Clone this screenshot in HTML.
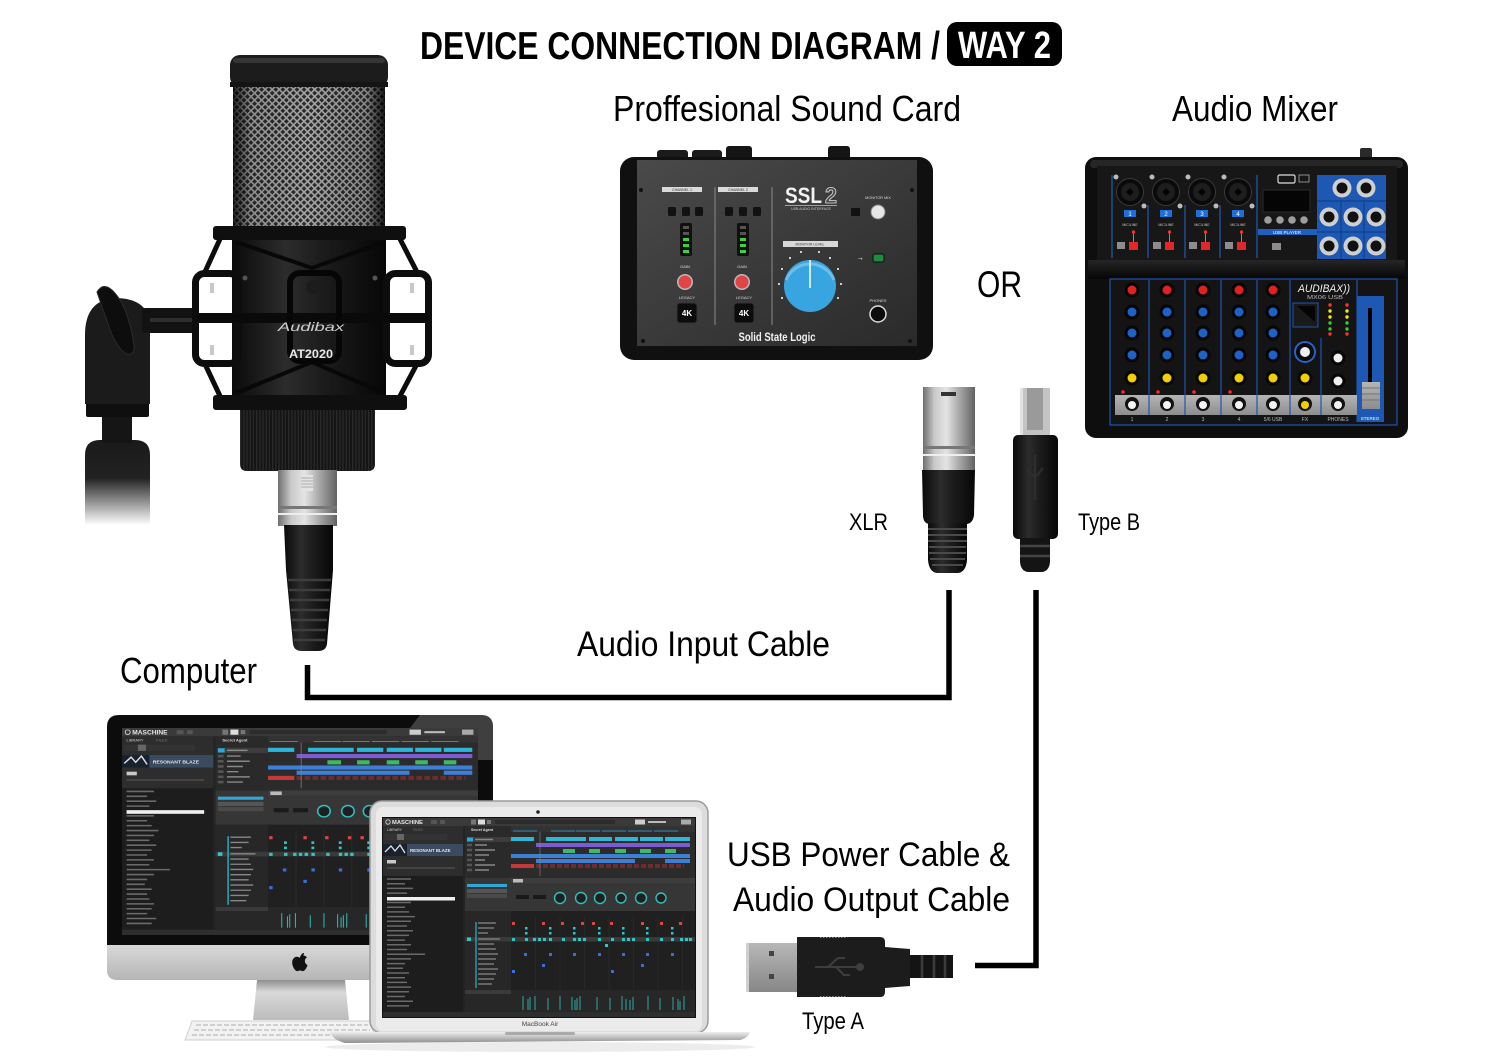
<!DOCTYPE html>
<html><head><meta charset="utf-8"><title>Device Connection Diagram</title>
<style>
html,body{margin:0;padding:0;background:#fff;width:1500px;height:1061px;overflow:hidden}
svg{display:block}
text{font-family:"Liberation Sans",Arial,sans-serif}
</style></head><body>
<svg width="1500" height="1061" viewBox="0 0 1500 1061" xmlns="http://www.w3.org/2000/svg">
<defs>
<pattern id="mesh" width="5" height="5" patternUnits="userSpaceOnUse" patternTransform="rotate(45)">
<rect width="5" height="5" fill="#2a2a2a"/>
<path d="M0 0.8H5M0.8 0V5" stroke="#a8a8a8" stroke-width="1.6"/>
</pattern>
<linearGradient id="gshade" x1="0" x2="1" y1="0" y2="0">
<stop offset="0" stop-color="#000" stop-opacity=".8"/>
<stop offset=".12" stop-color="#000" stop-opacity=".15"/>
<stop offset=".5" stop-color="#000" stop-opacity="0"/>
<stop offset=".88" stop-color="#000" stop-opacity=".2"/>
<stop offset="1" stop-color="#000" stop-opacity=".85"/>
</linearGradient>
<linearGradient id="blk" x1="0" x2="1">
<stop offset="0" stop-color="#0a0a0a"/>
<stop offset=".35" stop-color="#2c2c2c"/>
<stop offset=".6" stop-color="#1b1b1b"/>
<stop offset="1" stop-color="#070707"/>
</linearGradient>
<linearGradient id="silv" x1="0" x2="1">
<stop offset="0" stop-color="#6e6e6e"/>
<stop offset=".22" stop-color="#c9c9c9"/>
<stop offset=".45" stop-color="#e4e4e4"/>
<stop offset=".72" stop-color="#a3a3a3"/>
<stop offset="1" stop-color="#626262"/>
</linearGradient>
<pattern id="knurl" width="3.2" height="10" patternUnits="userSpaceOnUse">
<rect width="3.2" height="10" fill="#141414"/>
<rect width="1.2" height="10" fill="#2b2b2b"/>
</pattern>
<linearGradient id="fade" x1="0" x2="0" y1="0" y2="1">
<stop offset="0" stop-color="#1a1a1a"/>
<stop offset=".45" stop-color="#222"/>
<stop offset="1" stop-color="#fff"/>
</linearGradient>
<linearGradient id="ssl" x1="0" x2="1" y1="0" y2="1">
<stop offset="0" stop-color="#4a4a4a"/>
<stop offset="1" stop-color="#2a2a2a"/>
</linearGradient>
<linearGradient id="chin" x1="0" x2="0" y1="0" y2="1">
<stop offset="0" stop-color="#d8d8d8"/>
<stop offset="1" stop-color="#b6b6b6"/>
</linearGradient>
<linearGradient id="stand" x1="0" x2="0" y1="0" y2="1">
<stop offset="0" stop-color="#8e8e8e"/>
<stop offset=".3" stop-color="#d9d9d9"/>
<stop offset="1" stop-color="#bdbdbd"/>
</linearGradient>
<linearGradient id="base" x1="0" x2="0" y1="0" y2="1">
<stop offset="0" stop-color="#eee"/>
<stop offset="1" stop-color="#8e8e8e"/>
</linearGradient>
<linearGradient id="usbm" x1="0" x2="0" y1="0" y2="1">
<stop offset="0" stop-color="#b8b8b8"/>
<stop offset="1" stop-color="#878787"/>
</linearGradient>
<linearGradient id="band" x1="0" x2="0" y1="0" y2="1">
<stop offset="0" stop-color="#262626"/>
<stop offset="1" stop-color="#050505"/>
</linearGradient>
<linearGradient id="gray" x1="0" x2="0" y1="0" y2="1">
<stop offset="0" stop-color="#b5b5b5"/>
<stop offset="1" stop-color="#8d8d8d"/>
</linearGradient>

<g id="ui">
<rect width="312" height="199" fill="#242424"/>
<rect width="312" height="8" fill="#3a3a3a"/>
<circle cx="5" cy="4" r="2.2" fill="none" stroke="#ddd" stroke-width=".8"/>
<text x="9" y="6.2" font-size="5.8" font-weight="bold" fill="#e6e6e6">MASCHINE</text>
<rect x="48" y="2" width="6" height="4" fill="#555"/>
<rect x="57" y="2" width="5" height="4" fill="#555"/>
<rect x="88" y="1.5" width="5" height="5" fill="#777"/>
<rect x="95" y="1.5" width="7" height="5" fill="#ddd"/>
<rect x="104" y="2" width="4" height="4" fill="#777"/>
<rect x="112" y="2" width="120" height="4" fill="#2c2c2c"/>
<rect x="252" y="1.5" width="10" height="5" fill="#ccc"/>
<rect x="265" y="3" width="18" height="2" fill="#bbb"/>
<rect x="298" y="1.5" width="10" height="5" fill="#aaa"/>
<rect y="8" width="80" height="50" fill="#2d2d2d"/>
<text x="4" y="13" font-size="3.5" fill="#ccc">LIBRARY</text>
<text x="30" y="13" font-size="3.5" fill="#777">FILES</text>
<rect x="2" y="16" width="62" height="6" fill="#333"/>
<rect x="14" y="16" width="7" height="6" fill="#666"/>
<rect y="26" width="80" height="12" fill="#3a4a5f"/>
<rect y="26" width="24" height="12" fill="#18222c"/>
<path d="M2 34 L8 28 L12 33 L17 27 L22 35" stroke="#dde" stroke-width="1.3" fill="none"/>
<text x="27" y="34" font-size="4.4" font-weight="bold" fill="#e8e8e8">RESONANT BLAZE</text>
<rect x="4" y="42" width="9" height="3.5" fill="#c8c8c8"/>
<rect x="4" y="49" width="68" height="2" fill="#444"/>
<rect y="58" width="80" height="136" fill="#1d1d1d"/>
<path d="M4 61h24M4 65.7h18M4 70.4h26M4 75.1h20M4 84.5h24M4 89.2h18M4 93.9h22M4 98.6h28M4 103.3h24M4 108h20M4 112.7h26M4 117.4h22M4 122.1h18M4 126.8h24M4 131.5h20M4 136.2h38M4 140.9h24M4 145.6h18M4 150.3h16M4 155h22M4 159.7h18M4 164.4h20M4 169.1h24M4 173.8h22M4 178.5h18M4 183.2h26M4 187.9h22" stroke="#6a6a6a" stroke-width="1.5"/>
<rect x="4" y="79" width="68" height="3.5" fill="#efefef"/>
<rect x="82" y="8" width="46" height="52" fill="#2a2a2a"/>
<text x="88" y="13" font-size="3.6" fill="#ddd" font-weight="bold">Secret Agent</text>
<rect x="84" y="19" width="44" height="5" fill="#3d3d3d"/>
<rect x="84" y="19.5" width="6" height="4" fill="#2fa8d8"/>
<path d="M84 27h5M84 32h5M84 37h5M84 42h5M84 47h5M84 52h5" stroke="#555" stroke-width="2.5"/>
<path d="M92 21.5h18M92 27h12M92 32h20M92 37h14M92 42h10M92 47h20M92 52h14" stroke="#888" stroke-width="1.4"/>
<rect x="128" y="8" width="184" height="52" fill="#2b2b2b"/>
<rect x="128" y="8" width="184" height="6" fill="#333"/>
<path d="M130 13h24M168 13h24M193 13h24M219 13h24M245 13h24M271 13h24" stroke="#2fa8d8" stroke-width=".8"/>
<rect x="128" y="19" width="23" height="4" fill="#2fb5d6"/>
<rect x="163" y="19" width="40" height="4" fill="#2fb5d6"/>
<rect x="206" y="19" width="23" height="4" fill="#2fb5d6"/>
<rect x="232" y="19" width="23" height="4" fill="#2fb5d6"/>
<rect x="257" y="19" width="23" height="4" fill="#2fb5d6"/>
<rect x="282" y="19" width="25" height="4" fill="#2fb5d6"/>
<rect x="153" y="25" width="154" height="4" fill="#7b5bd1"/>
<rect x="180" y="31" width="12" height="4" fill="#3dbb63"/>
<rect x="206" y="31" width="11" height="4" fill="#3dbb63"/>
<rect x="232" y="31" width="11" height="4" fill="#3dbb63"/>
<rect x="257" y="31" width="11" height="4" fill="#3dbb63"/>
<rect x="282" y="31" width="11" height="4" fill="#3dbb63"/>
<rect x="128" y="36" width="179" height="4" fill="#3b7fd6"/>
<rect x="153" y="41" width="99" height="4" fill="#3b7fd6"/>
<rect x="282" y="41" width="25" height="4" fill="#3b7fd6"/>
<rect x="128" y="46" width="23" height="4" fill="#c43a3a"/>
<path d="M153 48h148" stroke="#6e2c2c" stroke-width="4" stroke-dasharray="5 2"/>
<line x1="157" y1="14" x2="157" y2="58" stroke="#888" stroke-width=".6"/>
<rect x="82" y="60" width="230" height="33" fill="#363636"/>
<rect x="84" y="66" width="40" height="3" fill="#2fa8d8"/>
<rect x="84" y="71" width="40" height="4" fill="#555"/>
<rect x="84" y="76" width="40" height="4" fill="#4a4a4a"/>
<rect x="128" y="60" width="184" height="5" fill="#3d3d3d"/>
<rect x="130" y="61" width="10" height="3.5" fill="#bbb"/>
<rect x="133" y="77" width="13" height="4" fill="#1a1a1a"/>
<rect x="150" y="77" width="13" height="4" fill="#1a1a1a"/>
<g fill="#1f1f1f" stroke="#2ec0c0" stroke-width="1.4">
<circle cx="177" cy="80" r="5.5"/><circle cx="198" cy="80" r="5.5"/><circle cx="217" cy="80" r="5.5"/><circle cx="238" cy="80" r="5"/><circle cx="258" cy="80" r="5.5"/><circle cx="278" cy="80" r="5"/>
</g>
<rect x="82" y="93" width="46" height="79" fill="#272727"/>
<rect x="128" y="93" width="184" height="79" fill="#202020"/>
<path d="M152.5 98V172M177 98V172M201.5 98V172M226 98V172M250.5 98V172M275 98V172M299.5 98V172" stroke="#303030" stroke-width=".6"/>
<rect x="82" y="119" width="230" height="4.5" fill="#3a3a3a"/>
<rect x="84" y="119.5" width="4" height="3.5" fill="#2fc6c6"/>
<path d="M93 104v66" stroke="#2fb5c6" stroke-width="1.2"/>
<path d="M95 105h18M95 110h16M95 115h10M95 121h22M95 126h16M95 131h18M95 136h20M95 141h18M95 146h16M95 151h20M95 156h18M95 161h16M95 166h14" stroke="#888" stroke-width="1.3"/>
<g fill="#d44">
<rect x="129" y="104" width="3" height="3"/><rect x="159" y="104" width="3" height="3"/><rect x="178" y="104" width="3" height="3"/><rect x="198" y="104" width="3" height="3"/><rect x="209" y="104" width="3" height="3"/><rect x="227" y="104" width="3" height="3"/><rect x="258" y="104" width="3" height="3"/><rect x="277" y="104" width="3" height="3"/><rect x="296" y="104" width="3" height="3"/>
</g>
<g fill="#2fc6c6">
<rect x="142" y="109" width="2.5" height="2.5"/><rect x="166" y="109" width="2.5" height="2.5"/><rect x="190" y="109" width="2.5" height="2.5"/><rect x="215" y="109" width="2.5" height="2.5"/><rect x="239" y="109" width="2.5" height="2.5"/><rect x="263" y="109" width="2.5" height="2.5"/><rect x="288" y="109" width="2.5" height="2.5"/>
<rect x="142" y="114" width="2.5" height="2.5"/><rect x="166" y="114" width="2.5" height="2.5"/><rect x="190" y="114" width="2.5" height="2.5"/><rect x="215" y="114" width="2.5" height="2.5"/><rect x="239" y="114" width="2.5" height="2.5"/><rect x="263" y="114" width="2.5" height="2.5"/><rect x="288" y="114" width="2.5" height="2.5"/>
<rect x="129" y="120" width="3" height="3"/><rect x="142" y="120" width="3" height="3"/><rect x="150" y="120" width="3" height="3"/><rect x="155" y="120" width="3" height="3"/><rect x="160" y="120" width="3" height="3"/><rect x="166" y="120" width="3" height="3"/><rect x="179" y="120" width="3" height="3"/><rect x="190" y="120" width="3" height="3"/><rect x="195" y="120" width="3" height="3"/><rect x="200" y="120" width="3" height="3"/><rect x="215" y="120" width="3" height="3"/><rect x="228" y="120" width="3" height="3"/><rect x="239" y="120" width="3" height="3"/><rect x="244" y="120" width="3" height="3"/><rect x="249" y="120" width="3" height="3"/><rect x="263" y="120" width="3" height="3"/><rect x="277" y="120" width="3" height="3"/><rect x="288" y="120" width="3" height="3"/><rect x="297" y="120" width="3" height="3"/><rect x="302" y="120" width="3" height="3"/><rect x="306" y="120" width="3" height="3"/>
<rect x="222" y="126" width="3" height="3"/>
</g>
<g fill="#3a6ed8">
<rect x="141" y="135" width="3" height="3"/><rect x="166" y="135" width="3" height="3"/><rect x="190" y="135" width="3" height="3"/><rect x="215" y="135" width="3" height="3"/><rect x="239" y="135" width="3" height="3"/><rect x="263" y="135" width="3" height="3"/><rect x="288" y="135" width="3" height="3"/>
<rect x="159" y="146" width="3" height="3"/><rect x="258" y="146" width="3" height="3"/><rect x="129" y="152" width="3" height="3"/><rect x="228" y="152" width="3" height="3"/>
</g>
<rect x="82" y="172" width="230" height="22" fill="#272727"/>
<rect x="82" y="172" width="46" height="4" fill="#3a3a3a"/>
<path d="M140 178V192M145 181V192M147 179V192M152 178V192M165 180V192M177 178V192M189 179V192M192 182V192M194 180V192M197 178V192M214 179V192M227 180V192M239 178V192M243 181V192M247 182V192M250 179V192M265 178V192M277 180V192M290 179V192M295 181V192M297 183V192M301 178V192" stroke="#2fb8b8" stroke-width=".9"/>
<rect y="194" width="312" height="5" fill="#2e2e2e"/>
</g>
</defs>

<rect width="1500" height="1061" fill="#fff"/>

<!-- ===== TITLE ===== -->
<text x="420" y="59" font-size="39" font-weight="bold" fill="#000" textLength="520" lengthAdjust="spacingAndGlyphs">DEVICE CONNECTION DIAGRAM /</text>
<rect x="947" y="22" width="115" height="44" rx="10" fill="#000"/>
<text x="958" y="58" font-size="38" font-weight="bold" fill="#fff" textLength="93" lengthAdjust="spacingAndGlyphs">WAY 2</text>

<text x="613" y="121" font-size="36" fill="#000" textLength="348" lengthAdjust="spacingAndGlyphs">Proffesional Sound Card</text>
<text x="1172" y="121" font-size="36" fill="#000" textLength="166" lengthAdjust="spacingAndGlyphs">Audio Mixer</text>
<text x="977" y="297" font-size="37" fill="#000" textLength="45" lengthAdjust="spacingAndGlyphs">OR</text>

<!-- ===== MIC STAND CLIP ===== -->
<path d="M85 525 V455 Q85 440 100 440 H135 Q150 440 150 455 V525 Z" fill="url(#fade)"/>
<rect x="102" y="415" width="30" height="28" fill="#151515"/>
<rect x="86" y="402" width="63" height="15" rx="2" fill="#0f0f0f"/>
<path d="M85 404 V335 Q85 300 115 298 Q145 298 150 320 V404 Z" fill="#1b1b1b"/>
<path d="M97 292 Q103 282 112 290 Q128 305 134 345 Q135 356 127 354 Q118 350 110 330 Z" fill="#0d0d0d" stroke="#2c2c2c" stroke-width="1"/>
<rect x="142" y="308" width="56" height="25" rx="3" fill="#121212"/>
<rect x="150" y="318" width="45" height="4" fill="#2e2e2e"/>

<!-- ===== MICROPHONE ===== -->
<rect x="230" y="55" width="158" height="32" rx="10" fill="#1c1c1c"/>
<rect x="233" y="58" width="152" height="5" rx="3" fill="#363636"/>
<rect x="233" y="85" width="152" height="143" fill="url(#mesh)"/>
<rect x="233" y="85" width="152" height="143" fill="url(#gshade)"/>
<rect x="230" y="82" width="158" height="5" fill="#141414"/>
<rect x="232" y="238" width="154" height="160" fill="url(#blk)"/>
<rect x="213" y="226" width="193" height="14" rx="3" fill="#0f0f0f"/>
<path d="M220 239 L204 274 M400 239 L418 274 M220 396 L204 362 M400 396 L418 362" stroke="#0c0c0c" stroke-width="5"/>
<path d="M236 242 L312 268 L384 242 M236 393 L312 362 L384 393" stroke="#080808" stroke-width="4" fill="none"/>
<rect x="195.5" y="273.5" width="43" height="90" rx="9" fill="none" stroke="#0d0d0d" stroke-width="7"/>
<rect x="386.5" y="273.5" width="42" height="90" rx="9" fill="none" stroke="#0d0d0d" stroke-width="7"/>
<rect x="197" y="313" width="231" height="10" fill="#0a0a0a"/>
<rect x="290" y="273" width="49" height="88" rx="10" fill="none" stroke="#060606" stroke-width="6"/>
<circle cx="313" cy="287" r="7" fill="#1c1c1c"/>
<circle cx="245" cy="278" r="2.5" fill="#555"/>
<circle cx="375" cy="278" r="2.5" fill="#555"/>
<rect x="210" y="283" width="4" height="10" fill="#c8c8c8"/>
<rect x="210" y="345" width="4" height="10" fill="#c8c8c8"/>
<rect x="410" y="283" width="4" height="10" fill="#c8c8c8"/>
<rect x="410" y="345" width="4" height="10" fill="#c8c8c8"/>
<text x="278" y="331" font-size="12" font-style="italic" fill="#cfcfcf" textLength="66" lengthAdjust="spacingAndGlyphs">Audibax</text>
<text x="289" y="358" font-size="12" font-weight="bold" fill="#e8e8e8" textLength="44" lengthAdjust="spacingAndGlyphs">AT2020</text>
<rect x="213" y="395" width="194" height="15" rx="3" fill="#0f0f0f"/>
<path d="M240 410 H375 V464 Q375 471 368 471 H247 Q240 471 240 464 Z" fill="url(#knurl)"/>
<rect x="278" y="470" width="59" height="56" fill="url(#silv)"/>
<rect x="301" y="475" width="12" height="16" fill="#e4e4e4"/>
<path d="M301 478h12M301 481h12M301 484h12M301 487h12" stroke="#999" stroke-width=".8"/>
<rect x="278" y="506" width="59" height="3" fill="#777"/>
<rect x="278" y="513" width="59" height="2" fill="#eee"/>
<path d="M284 525 H333 V570 L327 644 Q326 651 318 651 H302 Q294 651 293 644 L286 570 Z" fill="url(#blk)"/>
<path d="M288 580H331M289 590H330M290 600H329M291 610H328M292 620H327M293 630H326M294 640H325" stroke="#3d3d3d" stroke-width="2.5"/>

<!-- ===== SOUND CARD (SSL 2) ===== -->
<rect x="657" y="150" width="31" height="11" rx="3" fill="#1b1b1b"/>
<rect x="692" y="150" width="30" height="11" rx="3" fill="#1b1b1b"/>
<rect x="726" y="146" width="26" height="15" rx="3" fill="#151515"/>
<rect x="828" y="146" width="22" height="15" rx="3" fill="#151515"/>
<rect x="620" y="157" width="313" height="203" rx="14" fill="#101010"/>
<rect x="637" y="160" width="280" height="186" fill="url(#ssl)"/>
<circle cx="641" cy="190" r="2" fill="#111"/><circle cx="912" cy="190" r="2" fill="#111"/>
<circle cx="643" cy="341" r="2" fill="#111"/><circle cx="910" cy="341" r="2" fill="#111"/>
<rect x="662" y="187" width="40" height="5" fill="#dadada"/>
<rect x="718" y="187" width="40" height="5" fill="#dadada"/>
<text x="682" y="191" font-size="3.6" fill="#333" text-anchor="middle">CHANNEL 1</text>
<text x="738" y="191" font-size="3.6" fill="#333" text-anchor="middle">CHANNEL 2</text>
<path d="M715 187V325M772 187V325" stroke="#8a8a8a" stroke-width="1"/>
<g fill="#121212">
<rect x="668" y="207" width="8" height="9" rx="1.5"/><rect x="682" y="207" width="8" height="9" rx="1.5"/><rect x="695" y="207" width="8" height="9" rx="1.5"/>
<rect x="725" y="207" width="8" height="9" rx="1.5"/><rect x="739" y="207" width="8" height="9" rx="1.5"/><rect x="753" y="207" width="8" height="9" rx="1.5"/>
</g>
<rect x="680" y="223" width="12" height="33" rx="2" fill="#101010"/>
<rect x="737" y="223" width="12" height="33" rx="2" fill="#101010"/>
<g fill="#3bd33b">
<rect x="683" y="238" width="6" height="3"/><rect x="683" y="244" width="6" height="3"/><rect x="683" y="250" width="6" height="3"/>
<rect x="740" y="238" width="6" height="3"/><rect x="740" y="244" width="6" height="3"/><rect x="740" y="250" width="6" height="3"/>
</g>
<g fill="#555"><rect x="683" y="226" width="6" height="3"/><rect x="683" y="232" width="6" height="3"/><rect x="740" y="226" width="6" height="3"/><rect x="740" y="232" width="6" height="3"/></g>
<text x="685" y="268" font-size="4" fill="#ddd" text-anchor="middle">GAIN</text>
<text x="742" y="268" font-size="4" fill="#ddd" text-anchor="middle">GAIN</text>
<circle cx="685" cy="282" r="8" fill="#bbb"/><circle cx="685" cy="282" r="6.5" fill="#e04444"/>
<circle cx="742" cy="282" r="8" fill="#bbb"/><circle cx="742" cy="282" r="6.5" fill="#e04444"/>
<text x="687" y="299" font-size="4" fill="#ddd" text-anchor="middle">LEGACY</text>
<text x="744" y="299" font-size="4" fill="#ddd" text-anchor="middle">LEGACY</text>
<rect x="677" y="303" width="20" height="20" rx="3" fill="#0c0c0c" stroke="#333"/>
<rect x="734" y="303" width="20" height="20" rx="3" fill="#0c0c0c" stroke="#333"/>
<text x="687" y="316" font-size="8" font-weight="bold" fill="#fff" text-anchor="middle">4K</text>
<text x="744" y="316" font-size="8" font-weight="bold" fill="#fff" text-anchor="middle">4K</text>
<text x="785" y="203" font-size="22" font-weight="bold" fill="#f2f2f2" textLength="37" lengthAdjust="spacingAndGlyphs">SSL</text>
<text x="825" y="203" font-size="22" font-weight="bold" fill="#4a4a4a" stroke="#ddd" stroke-width=".8" textLength="12" lengthAdjust="spacingAndGlyphs">2</text>
<rect x="785" y="205" width="52" height=".8" fill="#bbb"/>
<text x="811" y="210" font-size="3.5" fill="#ccc" text-anchor="middle">USB AUDIO INTERFACE</text>
<text x="878" y="199" font-size="3.8" fill="#ddd" text-anchor="middle">MONITOR MIX</text>
<rect x="851" y="208" width="9" height="8" fill="#111"/>
<circle cx="878" cy="212" r="7" fill="#e6e6e6" stroke="#888"/>
<rect x="783" y="241" width="55" height="6" fill="#d8d8d8"/>
<text x="810" y="245.5" font-size="3.6" fill="#333" text-anchor="middle">MONITOR LEVEL</text>
<g fill="#fff"><circle cx="779" cy="284" r="1"/><circle cx="782" cy="269" r="1"/><circle cx="790" cy="258" r="1"/><circle cx="801" cy="252" r="1"/><circle cx="819" cy="252" r="1"/><circle cx="830" cy="258" r="1"/><circle cx="838" cy="269" r="1"/><circle cx="841" cy="284" r="1"/><circle cx="838" cy="298" r="1"/><circle cx="782" cy="298" r="1"/></g>
<circle cx="810" cy="286" r="26" fill="#39a5e0"/>
<path d="M786 280 A26 26 0 0 1 834 280" stroke="#8fd0f2" stroke-width="3" fill="none" opacity=".6"/>
<line x1="810" y1="260" x2="810" y2="288" stroke="#fff" stroke-width="1.5"/>
<text x="858" y="260" font-size="6" fill="#ccc">⭢</text>
<rect x="873" y="254" width="11" height="8" rx="2" fill="#1f8c3c" stroke="#0c0c0c"/>
<text x="878" y="302" font-size="4" fill="#ddd" text-anchor="middle">PHONES</text>
<circle cx="878" cy="314" r="8" fill="#0c0c0c" stroke="#ddd" stroke-width="1.5"/>
<text x="777" y="341" font-family="Liberation Serif,serif" font-size="12" font-weight="bold" fill="#f2f2f2" text-anchor="middle" textLength="77" lengthAdjust="spacingAndGlyphs">Solid State Logic</text>

<!-- ===== MIXER ===== -->
<rect x="1360" y="148" width="12" height="11" rx="2" fill="#2a2a2a"/>
<rect x="1085" y="157" width="323" height="281" rx="11" fill="#0e0e0e"/>
<rect x="1090" y="160" width="313" height="8" rx="4" fill="#262626"/>
<rect x="1097" y="166" width="300" height="94" fill="#171717"/>
<path d="M1112 175V258M1148 205V258M1185 205V258M1220 205V258M1257 175V258" stroke="#1f5ab5" stroke-width="1.2"/>
<g>
<circle cx="1130" cy="192" r="13.5" fill="#0a0a0a" stroke="#3a3a3a"/><circle cx="1130" cy="192" r="9" fill="#1e1e1e"/><path d="M1126 192L1130 188L1134 192L1130 196Z" fill="#050505"/>
<circle cx="1166" cy="192" r="13.5" fill="#0a0a0a" stroke="#3a3a3a"/><circle cx="1166" cy="192" r="9" fill="#1e1e1e"/><path d="M1162 192L1166 188L1170 192L1166 196Z" fill="#050505"/>
<circle cx="1202" cy="192" r="13.5" fill="#0a0a0a" stroke="#3a3a3a"/><circle cx="1202" cy="192" r="9" fill="#1e1e1e"/><path d="M1198 192L1202 188L1206 192L1202 196Z" fill="#050505"/>
<circle cx="1238" cy="192" r="13.5" fill="#0a0a0a" stroke="#3a3a3a"/><circle cx="1238" cy="192" r="9" fill="#1e1e1e"/><path d="M1234 192L1238 188L1242 192L1238 196Z" fill="#050505"/>
</g>
<g fill="#bbb">
<circle cx="1116" cy="177" r="2.5"/><circle cx="1144" cy="206" r="2.5"/><circle cx="1152" cy="177" r="2.5"/><circle cx="1180" cy="206" r="2.5"/>
<circle cx="1188" cy="177" r="2.5"/><circle cx="1216" cy="206" r="2.5"/><circle cx="1224" cy="177" r="2.5"/><circle cx="1252" cy="206" r="2.5"/>
</g>
<g fill="#1f6fd8"><rect x="1124" y="210" width="12" height="7"/><rect x="1160" y="210" width="12" height="7"/><rect x="1196" y="210" width="12" height="7"/><rect x="1232" y="210" width="12" height="7"/></g>
<g font-size="6" fill="#fff" text-anchor="middle"><text x="1130" y="216">1</text><text x="1166" y="216">2</text><text x="1202" y="216">3</text><text x="1238" y="216">4</text></g>
<g font-size="3.5" fill="#ccc" text-anchor="middle"><text x="1130" y="226">MIC/LINE</text><text x="1166" y="226">MIC/LINE</text><text x="1202" y="226">MIC/LINE</text><text x="1238" y="226">MIC/LINE</text></g>
<g fill="#8c8c8c"><rect x="1117" y="242" width="8" height="7"/><rect x="1153" y="242" width="8" height="7"/><rect x="1189" y="242" width="8" height="7"/><rect x="1225" y="242" width="8" height="7"/><rect x="1272" y="243" width="9" height="7"/></g>
<g fill="#e32626"><rect x="1129" y="242" width="9" height="8"/><rect x="1165" y="242" width="9" height="8"/><rect x="1201" y="242" width="9" height="8"/><rect x="1237" y="242" width="9" height="8"/></g>
<path d="M1133.5 232V242M1169.5 232V242M1205.5 232V242M1241.5 232V242" stroke="#aaa" stroke-width=".8"/>
<g fill="#ff3030"><circle cx="1133.5" cy="232" r="1.6"/><circle cx="1169.5" cy="232" r="1.6"/><circle cx="1205.5" cy="232" r="1.6"/><circle cx="1241.5" cy="232" r="1.6"/></g>
<rect x="1278" y="175" width="17" height="8" rx="1.5" fill="none" stroke="#ddd" stroke-width="1.2"/>
<rect x="1299" y="175" width="10" height="7" fill="none" stroke="#aaa" stroke-width=".8"/>
<rect x="1263" y="190" width="47" height="22" fill="#050505" stroke="#2a2a2a"/>
<g fill="#9d9d9d"><circle cx="1268" cy="220" r="3.8"/><circle cx="1280" cy="220" r="3.8"/><circle cx="1292" cy="220" r="3.8"/><circle cx="1304" cy="220" r="3.8"/></g>
<rect x="1258" y="229" width="59" height="6" fill="#1f5fc0"/>
<text x="1287" y="234" font-size="4.5" fill="#fff" text-anchor="middle">USB PLAYER</text>
<rect x="1317" y="175" width="69" height="84" fill="#1c58b4"/>
<path d="M1317 201H1386M1317 232H1386M1341 201V259M1364 201V259" stroke="#0f3a7a" stroke-width="1"/>
<g fill="#cfcfcf"><circle cx="1342" cy="188" r="9.5"/><circle cx="1366" cy="188" r="9.5"/><circle cx="1329" cy="217" r="9.5"/><circle cx="1353" cy="217" r="9.5"/><circle cx="1376" cy="217" r="9.5"/><circle cx="1329" cy="246" r="9.5"/><circle cx="1353" cy="246" r="9.5"/><circle cx="1376" cy="246" r="9.5"/></g>
<g fill="#111"><circle cx="1342" cy="188" r="5.5"/><circle cx="1366" cy="188" r="5.5"/><circle cx="1329" cy="217" r="5.5"/><circle cx="1353" cy="217" r="5.5"/><circle cx="1376" cy="217" r="5.5"/><circle cx="1329" cy="246" r="5.5"/><circle cx="1353" cy="246" r="5.5"/><circle cx="1376" cy="246" r="5.5"/></g>
<rect x="1088" y="260" width="317" height="19" fill="url(#band)"/>
<rect x="1110" y="279" width="287" height="146" fill="#141414" stroke="#1f55b0" stroke-width="1.2"/>
<path d="M1149 280V395M1185 280V395M1221 280V395M1257 280V395M1290 280V395M1321 338V395M1357 280V422" stroke="#1f55b0" stroke-width="1.2"/>
<g fill="#060606">
<circle cx="1132" cy="290" r="7.5"/><circle cx="1167" cy="290" r="7.5"/><circle cx="1203" cy="290" r="7.5"/><circle cx="1239" cy="290" r="7.5"/><circle cx="1273" cy="290" r="7.5"/>
<circle cx="1132" cy="312" r="7.5"/><circle cx="1167" cy="312" r="7.5"/><circle cx="1203" cy="312" r="7.5"/><circle cx="1239" cy="312" r="7.5"/><circle cx="1273" cy="312" r="7.5"/>
<circle cx="1132" cy="333" r="7.5"/><circle cx="1167" cy="333" r="7.5"/><circle cx="1203" cy="333" r="7.5"/><circle cx="1239" cy="333" r="7.5"/><circle cx="1273" cy="333" r="7.5"/>
<circle cx="1132" cy="355" r="7.5"/><circle cx="1167" cy="355" r="7.5"/><circle cx="1203" cy="355" r="7.5"/><circle cx="1239" cy="355" r="7.5"/><circle cx="1273" cy="355" r="7.5"/>
<circle cx="1132" cy="378" r="7.5"/><circle cx="1167" cy="378" r="7.5"/><circle cx="1203" cy="378" r="7.5"/><circle cx="1239" cy="378" r="7.5"/><circle cx="1273" cy="378" r="7.5"/><circle cx="1305" cy="378" r="7.5"/>
<circle cx="1338" cy="358" r="7.5"/><circle cx="1338" cy="381" r="7.5"/>
</g>
<g fill="#e22020"><circle cx="1132" cy="290" r="4.5"/><circle cx="1167" cy="290" r="4.5"/><circle cx="1203" cy="290" r="4.5"/><circle cx="1239" cy="290" r="4.5"/><circle cx="1273" cy="290" r="4.5"/></g>
<g fill="#1d62c8">
<circle cx="1132" cy="312" r="4.5"/><circle cx="1167" cy="312" r="4.5"/><circle cx="1203" cy="312" r="4.5"/><circle cx="1239" cy="312" r="4.5"/><circle cx="1273" cy="312" r="4.5"/>
<circle cx="1132" cy="333" r="4.5"/><circle cx="1167" cy="333" r="4.5"/><circle cx="1203" cy="333" r="4.5"/><circle cx="1239" cy="333" r="4.5"/><circle cx="1273" cy="333" r="4.5"/>
<circle cx="1132" cy="355" r="4.5"/><circle cx="1167" cy="355" r="4.5"/><circle cx="1203" cy="355" r="4.5"/><circle cx="1239" cy="355" r="4.5"/><circle cx="1273" cy="355" r="4.5"/>
</g>
<g fill="#f2d000"><circle cx="1132" cy="378" r="4.5"/><circle cx="1167" cy="378" r="4.5"/><circle cx="1203" cy="378" r="4.5"/><circle cx="1239" cy="378" r="4.5"/><circle cx="1273" cy="378" r="4.5"/><circle cx="1305" cy="378" r="4.5"/></g>
<g fill="#eee"><circle cx="1338" cy="358" r="4.5"/><circle cx="1338" cy="381" r="4.5"/></g>
<text x="1298" y="292" font-size="11" font-style="italic" fill="#eee" textLength="52" lengthAdjust="spacingAndGlyphs">AUDIBAX))</text>
<text x="1307" y="299" font-size="5.5" fill="#bbb" textLength="36" lengthAdjust="spacingAndGlyphs">MX06 USB</text>
<rect x="1293" y="303" width="25" height="24" fill="#1a1a1a" stroke="#1f55b0"/>
<path d="M1297 306H1315V322Z" fill="#050505"/>
<circle cx="1305" cy="352" r="10" fill="#0a0a0a" stroke="#2563c8" stroke-width="2"/>
<circle cx="1305" cy="352" r="5" fill="#eee"/>
<g><circle cx="1330" cy="305" r="1.7" fill="#f33"/><circle cx="1347" cy="305" r="1.7" fill="#f33"/><circle cx="1330" cy="311" r="1.7" fill="#ee0"/><circle cx="1347" cy="311" r="1.7" fill="#ee0"/><circle cx="1330" cy="317" r="1.7" fill="#ee0"/><circle cx="1347" cy="317" r="1.7" fill="#ee0"/><circle cx="1330" cy="323" r="1.7" fill="#3c3"/><circle cx="1347" cy="323" r="1.7" fill="#3c3"/><circle cx="1330" cy="329" r="1.7" fill="#3c3"/><circle cx="1347" cy="329" r="1.7" fill="#3c3"/><circle cx="1330" cy="334" r="1.7" fill="#f33"/><circle cx="1347" cy="334" r="1.7" fill="#f33"/></g>
<g fill="#ff2a2a"><circle cx="1123" cy="392" r="1.8"/><circle cx="1158" cy="392" r="1.8"/><circle cx="1194" cy="392" r="1.8"/><circle cx="1230" cy="392" r="1.8"/></g>
<rect x="1115" y="395" width="242" height="20" fill="url(#gray)"/>
<path d="M1149 395V415M1185 395V415M1221 395V415M1257 395V415M1290 395V415M1321 395V415" stroke="#1f55b0" stroke-width="1.2"/>
<g fill="#111"><circle cx="1132" cy="404" r="7"/><circle cx="1167" cy="404" r="7"/><circle cx="1203" cy="404" r="7"/><circle cx="1239" cy="404" r="7"/><circle cx="1273" cy="404" r="7"/><circle cx="1305" cy="404" r="7"/><circle cx="1338" cy="404" r="7"/></g>
<g fill="#f4f4f4"><circle cx="1132" cy="405" r="4"/><circle cx="1167" cy="405" r="4"/><circle cx="1203" cy="405" r="4"/><circle cx="1239" cy="405" r="4"/><circle cx="1273" cy="405" r="4"/><circle cx="1338" cy="405" r="4"/></g>
<circle cx="1305" cy="405" r="4" fill="#f2d000"/>
<g font-size="5" fill="#bbb" text-anchor="middle"><text x="1132" y="421">1</text><text x="1167" y="421">2</text><text x="1203" y="421">3</text><text x="1239" y="421">4</text><text x="1273" y="421">5/6 USB</text><text x="1305" y="421">FX</text><text x="1338" y="421">PHONES</text></g>
<rect x="1357" y="296" width="27" height="126" fill="#1c58b4"/>
<rect x="1368" y="308" width="4" height="90" fill="#000"/>
<rect x="1362" y="382" width="18" height="27" fill="url(#gray)"/>
<path d="M1362 388H1380M1362 394H1380M1362 400H1380" stroke="#666" stroke-width=".8"/>
<text x="1370" y="420" font-size="4.5" fill="#fff" text-anchor="middle">STEREO</text>

<!-- ===== XLR CONNECTOR ===== -->
<rect x="923" y="387" width="52" height="84" fill="url(#silv)"/>
<rect x="941" y="392" width="15" height="4" fill="#333"/>
<rect x="923" y="446" width="52" height="3" fill="#777"/>
<rect x="923" y="454" width="52" height="2" fill="#eee"/>
<path d="M922 470 H975 L974 515 Q973 523 967 524 H929 Q923 523 923 515 Z" fill="url(#blk)"/>
<path d="M928 523 H967 V560 Q966 572 958 573 H937 Q929 572 928 560 Z" fill="url(#blk)"/>
<path d="M928 529H967M928 535H967M928 541H967M929 547H966M929 553H966M930 559H965M932 565H963" stroke="#4a4a4a" stroke-width="2"/>

<!-- ===== USB TYPE B ===== -->
<rect x="1020" y="388" width="30" height="50" fill="#c4c4c4"/>
<rect x="1027" y="388" width="16" height="42" fill="#9a9a9a"/>
<rect x="1020" y="388" width="3" height="50" fill="#e2e2e2"/>
<rect x="1013" y="435" width="45" height="104" rx="5" fill="url(#blk)"/>
<path d="M1035 455V500M1027 470L1035 478L1043 468" stroke="#2e2e2e" stroke-width="2" fill="none"/>
<path d="M1020 538 H1050 V562 Q1049 572 1041 572 H1029 Q1021 572 1020 562 Z" fill="#141414"/>
<path d="M1020 546H1050M1020 556H1050" stroke="#444" stroke-width="2.5"/>

<!-- ===== CABLE LINES ===== -->
<path d="M949 590 V697.5 H307.5 V665" fill="none" stroke="#000" stroke-width="5.5"/>
<path d="M1036 590 V965.5 H975" fill="none" stroke="#000" stroke-width="5.5"/>

<!-- ===== LABELS ===== -->
<text x="849" y="530" font-size="24" fill="#000" textLength="39" lengthAdjust="spacingAndGlyphs">XLR</text>
<text x="1078" y="530" font-size="24" fill="#000" textLength="62" lengthAdjust="spacingAndGlyphs">Type B</text>
<text x="577" y="656" font-size="35" fill="#000" textLength="253" lengthAdjust="spacingAndGlyphs">Audio Input Cable</text>
<text x="120" y="683" font-size="36" fill="#000" textLength="137" lengthAdjust="spacingAndGlyphs">Computer</text>
<text x="727" y="866" font-size="34" fill="#000" textLength="283" lengthAdjust="spacingAndGlyphs">USB Power Cable &amp;</text>
<text x="733" y="911" font-size="34" fill="#000" textLength="277" lengthAdjust="spacingAndGlyphs">Audio Output Cable</text>
<text x="802" y="1029" font-size="24" fill="#000" textLength="62" lengthAdjust="spacingAndGlyphs">Type A</text>

<!-- ===== USB TYPE A ===== -->
<rect x="746" y="943" width="52" height="49" fill="url(#usbm)"/>
<rect x="746" y="943" width="3" height="49" fill="#cfcfcf"/>
<rect x="769" y="951" width="5" height="5" fill="#444"/>
<rect x="769" y="974" width="5" height="5" fill="#444"/>
<path d="M797 937 H880 Q885 937 885 942 V947 L910 949 V986 L885 988 V992 Q885 997 880 997 H797 Z" fill="#1c1c1c"/>
<path d="M910 955 H953 V978 H910 Z" fill="#141414"/>
<path d="M922 955V978M934 955V978M945 955V978" stroke="#3c3c3c" stroke-width="2.5"/>
<path d="M815 967H858M828 967L838 958H845M836 967L844 975H850" stroke="#3e3e3e" stroke-width="2" fill="none"/>
<circle cx="860" cy="967" r="4" fill="#3e3e3e"/>
<path d="M820 937.5h26M820 996.5h26" stroke="#888" stroke-width="1" stroke-dasharray="1.5 1.5"/>

<!-- ===== iMAC ===== -->
<path d="M107 945 V727 Q107 715 119 715 H481 Q493 715 493 727 V945 Z" fill="#0c0c0c"/>
<path d="M420 715 H481 Q493 715 493 727 V760 L478 760 V728 H410 Z" fill="#555" opacity=".7"/>
<use href="#ui" transform="translate(122,728) scale(1.141,1.040)"/>
<path d="M107 945 H493 V970 Q493 980 483 980 H117 Q107 980 107 970 Z" fill="url(#chin)"/>
<path d="M300 958 c-2 -1.5 -4 -1.5 -5.5 -0.5 c-3 2 -3 7 -0.5 11 c1.2 2 2.5 3 4 2.5 c0.8 -0.3 1.4 -0.5 2 -0.5 c0.6 0 1.2 0.2 2 0.5 c1.5 0.5 2.8 -0.5 4 -2.5 c0.8 -1.3 1.3 -2.5 1.5 -3.5 c-2 -1 -3 -3 -2.5 -5 c0.3 -1.2 1 -2 2 -2.6 c-1.2 -1.6 -3 -2.2 -4.5 -1.8 c-1 0.3 -1.8 0.6 -2.5 0.9 z" fill="#111"/>
<path d="M300.5 957 c0 -2 1.5 -3.8 3.5 -4 c0.1 2 -1.5 3.8 -3.5 4z" fill="#111"/>
<path d="M257 980 H345 L349 1020 H253 Z" fill="url(#stand)"/>
<path d="M192 1021 H370 L376 1040 H185 Z" fill="#f2f2f2" stroke="#cfcfcf"/>
<path d="M196 1025H368M194 1030H370M192 1035H372" stroke="#c4c4c4" stroke-width="1.6" stroke-dasharray="5 2"/>

<!-- ===== MACBOOK ===== -->
<ellipse cx="540" cy="1047" rx="215" ry="5" fill="#ececec"/>
<rect x="370" y="801" width="338" height="232" rx="12" fill="#dcdcdc" stroke="#9c9c9c" stroke-width="1.5"/>
<rect x="376" y="807" width="326" height="224" rx="7" fill="#ebebeb"/>
<circle cx="538" cy="812" r="1.8" fill="#222"/>
<rect x="382" y="817" width="314" height="201" fill="#111"/>
<use href="#ui" transform="translate(383,818)"/>
<text x="540" y="1026" font-size="6.5" fill="#444" text-anchor="middle">MacBook Air</text>
<path d="M330 1032 H750 Q748 1038 740 1040 L345 1043 Q333 1040 330 1032 Z" fill="url(#base)"/>
<rect x="505" y="1032" width="70" height="3" rx="1.5" fill="#aaa"/>
</svg>
</body></html>
